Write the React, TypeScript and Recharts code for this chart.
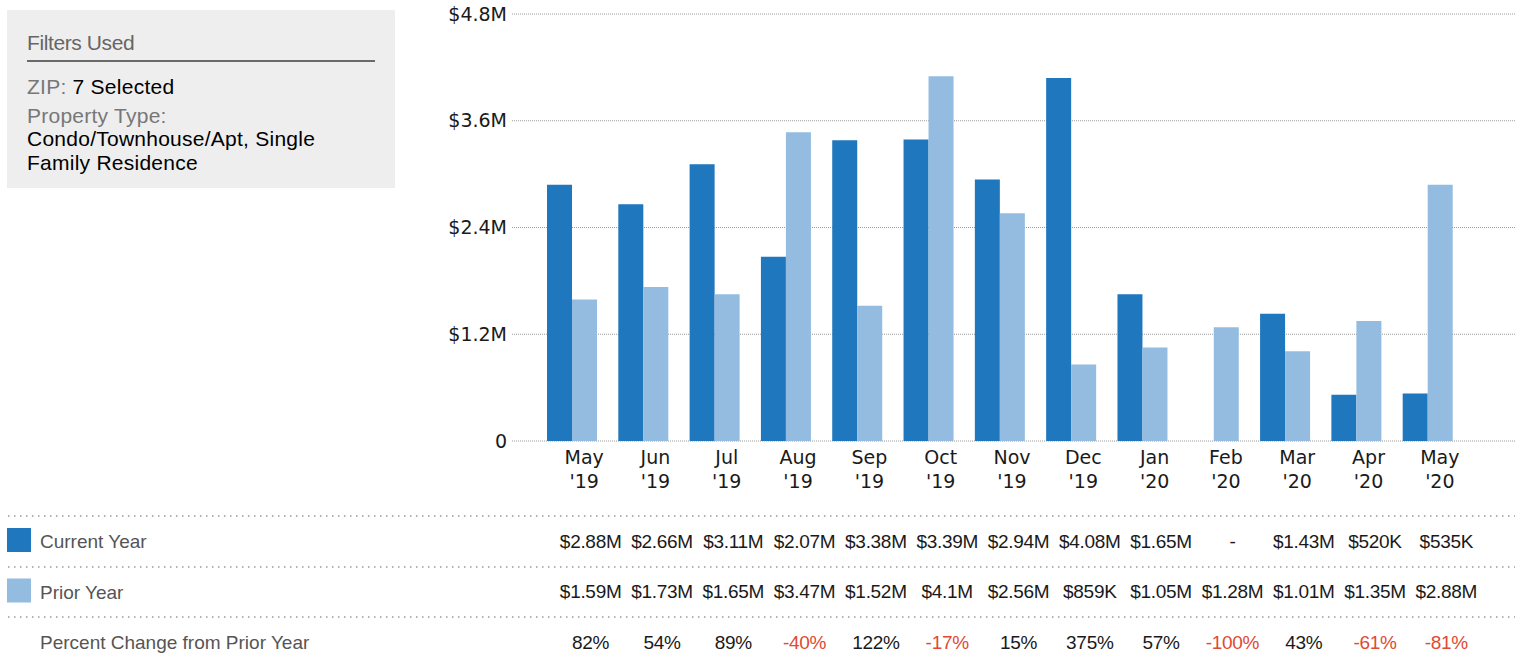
import { BarChart, Bar, XAxis, YAxis, CartesianGrid } from 'recharts'

const months = ["May '19", "Jun '19", "Jul '19", "Aug '19", "Sep '19", "Oct '19", "Nov '19", "Dec '19", "Jan '20", "Feb '20", "Mar '20", "Apr '20", "May '20"]
const currentYear = [2880000, 2660000, 3110000, 2070000, 3380000, 3390000, 2940000, 4080000, 1650000, null, 1430000, 520000, 535000]
const priorYear = [1590000, 1730000, 1650000, 3470000, 1520000, 4100000, 2560000, 859000, 1050000, 1280000, 1010000, 1350000, 2880000]
const pctChange = [82, 54, 89, -40, 122, -17, 15, 375, 57, -100, 43, -61, -81]
const yTicks = [0, 1200000, 2400000, 3600000, 4800000]

const CUR = '#1F77BE'
const PRIOR = '#93BCE0'
const NEG = '#DE4A33'
const INK = '#1a1a1a'
const LABEL = '#555'

const data = months.map((m, i) => ({ month: m, current: currentYear[i], prior: priorYear[i] }))

function fmtMoney(v: number | null): string {
  if (v == null) return '-'
  if (v >= 1e6) return `$${+(v / 1e6).toFixed(2)}M`
  return `$${Math.round(v / 1e3)}K`
}

function fmtAxis(v: number): string {
  return v === 0 ? '0' : `$${v / 1e6}M`
}

const rowLabels = [
  { text: 'Current Year', color: CUR },
  { text: 'Prior Year', color: PRIOR },
  { text: 'Percent Change from Prior Year', color: null },
]

// month label + the table column underneath it
function MonthTick(props: any) {
  const { x, y, payload } = props
  const i = months.indexOf(payload.value)
  const [mon, yr] = String(payload.value).split(' ')
  const cx = x + 12.5
  const tx = x + 19
  const valStyle = { fontFamily: '"Liberation Sans", Arial, sans-serif', fontSize: 19, letterSpacing: -0.3 }
  return (
    <g>
      {i === 0 && (
        <g>
          {[75, 126, 176].map((dy) => (
            <line key={dy} x1={8} x2={1515} y1={y + dy} y2={y + dy} stroke="#9a9a9a" strokeWidth={1.5} strokeDasharray="1.5 4.5" />
          ))}
          {rowLabels.map((r, k) => (
            <g key={r.text}>
              {r.color && <rect x={7} y={y + 87 + k * 50.5} width={24} height={24} fill={r.color} />}
              <text x={40} y={y + 107 + k * 50.5} fill={LABEL} style={{ fontFamily: '"Liberation Sans", Arial, sans-serif', fontSize: 19 }}>
                {r.text}
              </text>
            </g>
          ))}
        </g>
      )}
      <text textAnchor="middle" fill={INK} style={{ fontFamily: '"DejaVu Sans", Verdana, sans-serif', fontSize: 19 }}>
        <tspan x={cx} y={y + 23}>{mon}</tspan>
        <tspan x={cx} y={y + 47}>{yr}</tspan>
      </text>
      <text x={tx} y={y + 106.5} textAnchor="middle" fill={INK} style={valStyle}>{fmtMoney(currentYear[i])}</text>
      <text x={tx} y={y + 157} textAnchor="middle" fill={INK} style={valStyle}>{fmtMoney(priorYear[i])}</text>
      <text x={tx} y={y + 207.5} textAnchor="middle" fill={pctChange[i] < 0 ? NEG : INK} style={valStyle}>{`${pctChange[i]}%`}</text>
    </g>
  )
}

function FiltersBox() {
  const font = '"Liberation Sans", Arial, sans-serif'
  return (
    <div style={{ position: 'absolute', left: 7, top: 10, width: 388, height: 178, background: '#eeeeee', fontFamily: font, fontSize: 21, letterSpacing: 0.25 }}>
      <div style={{ position: 'absolute', left: 20, top: 21, lineHeight: '23.5px', color: '#666', letterSpacing: -0.4 }}>Filters Used</div>
      <div style={{ position: 'absolute', left: 20, top: 50, width: 348, height: 2, background: '#6a6a6a' }} />
      <div style={{ position: 'absolute', left: 20, top: 64.5, lineHeight: '23.5px', color: '#000', whiteSpace: 'nowrap' }}>
        <span style={{ color: '#777' }}>ZIP: </span>7 Selected
      </div>
      <div style={{ position: 'absolute', left: 20, top: 93.5, lineHeight: '23.5px', color: '#000', whiteSpace: 'nowrap' }}>
        <span style={{ color: '#777' }}>Property Type:</span>
        <br />
        Condo/Townhouse/Apt, Single
        <br />
        Family Residence
      </div>
    </div>
  )
}

export default function App() {
  return (
    <div style={{ position: 'absolute', left: 0, top: 0, width: 1520, height: 663, background: '#fff' }}>
      <BarChart width={1520} height={663} data={data} margin={{ top: 14, right: 5, bottom: 0, left: 452 }} barGap={0}>
        <CartesianGrid vertical={false} stroke="#9a9a9a" strokeDasharray="1 1" />
        <XAxis
          dataKey="month"
          interval={0}
          height={222}
          axisLine={false}
          tickLine={false}
          tickSize={0}
          tickMargin={0}
          padding={{ left: 24, right: 52 }}
          tick={<MonthTick />}
        />
        <YAxis
          domain={[0, 4800000]}
          ticks={yTicks}
          tickFormatter={fmtAxis}
          width={60}
          axisLine={false}
          tickLine={false}
          tickSize={0}
          tickMargin={5}
          tick={{ fill: INK, fontSize: 19, fontFamily: '"DejaVu Sans", Verdana, sans-serif' }}
        />
        <Bar dataKey="current" fill={CUR} barSize={25} isAnimationActive={false} />
        <Bar dataKey="prior" fill={PRIOR} barSize={25} isAnimationActive={false} />
      </BarChart>
      <FiltersBox />
    </div>
  )
}
